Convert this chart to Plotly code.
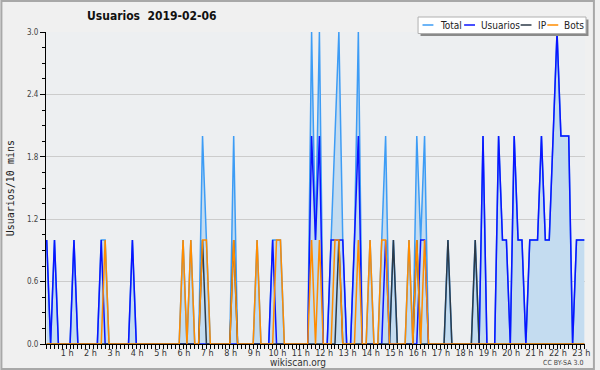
import plotly.graph_objects as go

# ---- data: users per 10-minute slot, 2019-02-06 (6 slots per hour) ----
TOTAL = [
    1, 0, 1, 0, 0, 0,   # 0 h
    0, 1, 0, 0, 0, 0,   # 1 h
    0, 0, 1, 1, 0, 0,   # 2 h
    0, 0, 0, 0, 1, 0,   # 3 h
    0, 0, 0, 0, 0, 0,   # 4 h
    0, 0, 0, 0, 0, 1,   # 5 h
    0, 1, 0, 0, 2, 1,   # 6 h
    0, 0, 0, 0, 0, 0,   # 7 h
    2, 0, 0, 0, 0, 0,   # 8 h
    1, 0, 0, 0, 1, 1,   # 9 h
    1, 0, 0, 0, 0, 0,   # 10 h
    0, 0, 3, 1, 3, 0,   # 11 h
    0, 1, 2, 3, 1, 0,   # 12 h
    0, 1, 3, 0, 0, 1,   # 13 h
    0, 0, 1, 2, 0, 1,   # 14 h
    0, 0, 0, 1, 0, 2,   # 15 h
    1, 2, 0, 0, 0, 0,   # 16 h
    0, 1, 0, 0, 0, 0,   # 17 h
    0, 0, 1, 0, 2, 0,   # 18 h
    0, 0, 2, 1, 1, 0,   # 19 h
    2, 1, 1, 0, 1, 1,   # 20 h
    1, 2, 1, 1, 2, 3,   # 21 h
    2, 2, 2, 0, 1, 1,   # 22 h
    1,                  # 23 h
]
USUARIOS = [
    1, 0, 1, 0, 0, 0,
    0, 1, 0, 0, 0, 0,
    0, 0, 1, 0, 0, 0,
    0, 0, 0, 0, 1, 0,
    0, 0, 0, 0, 0, 0,
    0, 0, 0, 0, 0, 0,
    0, 0, 0, 0, 0, 0,
    0, 0, 0, 0, 0, 0,
    0, 0, 0, 0, 0, 0,
    0, 0, 0, 0, 1, 0,
    0, 0, 0, 0, 0, 0,
    0, 0, 2, 1, 2, 0,
    0, 1, 1, 1, 1, 0,
    0, 1, 2, 0, 0, 0,
    0, 0, 0, 1, 0, 0,
    0, 0, 0, 0, 0, 0,
    1, 1, 0, 0, 0, 0,
    0, 0, 0, 0, 0, 0,
    0, 0, 0, 0, 2, 0,
    0, 0, 2, 1, 1, 0,
    2, 1, 1, 0, 1, 1,
    1, 2, 1, 1, 2, 3,
    2, 2, 2, 0, 1, 1,
    1,
]
IP = [
    0, 0, 0, 0, 0, 0,
    0, 0, 0, 0, 0, 0,
    0, 0, 0, 0, 0, 0,
    0, 0, 0, 0, 0, 0,
    0, 0, 0, 0, 0, 0,
    0, 0, 0, 0, 0, 0,
    0, 0, 0, 0, 1, 0,
    0, 0, 0, 0, 0, 0,
    1, 0, 0, 0, 0, 0,
    0, 0, 0, 0, 0, 0,
    0, 0, 0, 0, 0, 0,
    0, 0, 0, 0, 0, 0,
    0, 0, 0, 1, 0, 0,
    0, 0, 0, 0, 0, 0,
    0, 0, 0, 0, 0, 1,
    0, 0, 0, 0, 0, 1,
    0, 0, 0, 0, 0, 0,
    0, 1, 0, 0, 0, 0,
    0, 0, 1, 0, 0, 0,
    0, 0, 0, 0, 0, 0,
    0, 0, 0, 0, 0, 0,
    0, 0, 0, 0, 0, 0,
    0, 0, 0, 0, 0, 0,
    0,
]
BOTS = [
    0, 0, 0, 0, 0, 0,
    0, 0, 0, 0, 0, 0,
    0, 0, 0, 1, 0, 0,
    0, 0, 0, 0, 0, 0,
    0, 0, 0, 0, 0, 0,
    0, 0, 0, 0, 0, 1,
    0, 1, 0, 0, 1, 1,
    0, 0, 0, 0, 0, 0,
    1, 0, 0, 0, 0, 0,
    1, 0, 0, 0, 0, 1,
    1, 0, 0, 0, 0, 0,
    0, 0, 1, 0, 1, 0,
    0, 0, 1, 1, 0, 0,
    0, 0, 1, 0, 0, 1,
    0, 0, 1, 1, 0, 0,
    0, 0, 0, 1, 0, 1,
    0, 1, 0, 0, 0, 0,
    0, 0, 0, 0, 0, 0,
    0, 0, 0, 0, 0, 0,
    0, 0, 0, 0, 0, 0,
    0, 0, 0, 0, 0, 0,
    0, 0, 0, 0, 0, 0,
    0, 0, 0, 0, 0, 0,
    0,
]
HOURS = list(range(1, 24))
HOUR_LABELS = [f"{h} h" for h in HOURS]
Y_TICKS = [0.0, 0.6, 1.2, 1.8, 2.4, 3.0]
Y_LABELS = ["0.0", "0.6", "1.2", "1.8", "2.4", "3.0"]
SERIES_NAMES = ["Total", "Usuarios", "IP", "Bots"]

# x positions: time of day in hours (10-minute slots)
X = [i / 6 for i in range(len(TOTAL))]

# ---- layout constants ----
W, H = 600, 370
ML, MR, MT, MB = 46, 10, 32, 26
PW, PH = W - ML - MR, H - MT - MB

def px(x):
    return (x - ML) / PW

def py(y):
    return (H - MB - y) / PH

COLORS = {"Total": "#3d9cf5", "Usuarios": "#0a14ff", "IP": "#2c3a48", "Bots": "#ff8c00"}
FONT = "DejaVu Sans Condensed, Liberation Sans Narrow, DejaVu Sans"

fig = go.Figure()
fig.add_trace(go.Scatter(x=X, y=TOTAL, name="Total", mode="lines",
                         line=dict(color=COLORS["Total"], width=1.5),
                         fill="tozeroy", fillcolor="#c4dcf0"))
fig.add_trace(go.Scatter(x=X, y=USUARIOS, name="Usuarios", mode="lines",
                         line=dict(color=COLORS["Usuarios"], width=1.5)))
fig.add_trace(go.Scatter(x=X, y=IP, name="IP", mode="lines",
                         line=dict(color=COLORS["IP"], width=1.5)))
fig.add_trace(go.Scatter(x=X, y=BOTS, name="Bots", mode="lines",
                         line=dict(color=COLORS["Bots"], width=1.5)))

shapes = []
annotations = []

# outer frame
shapes.append(dict(type="rect", xref="paper", yref="paper",
                   x0=px(1), x1=px(599), y0=py(369), y1=py(1),
                   line=dict(color="#a8a8a8", width=2), fillcolor="rgba(0,0,0,0)",
                   layer="above"))

# manual legend box (shadow + box)
shapes.append(dict(type="rect", xref="paper", yref="paper",
                   x0=px(424), x1=px(593.5), y0=py(36), y1=py(19.5),
                   line=dict(width=0), fillcolor="#8a8a8a", layer="above"))
shapes.append(dict(type="rect", xref="paper", yref="paper",
                   x0=px(421.5), x1=px(591), y0=py(33.5), y1=py(17),
                   line=dict(color="#b0b0b0", width=1), fillcolor="#ffffff", layer="above"))
legend_items = [("Total", 426, 442), ("Usuarios", 468, 483), ("IP", 525, 541), ("Bots", 552, 567)]
for name, lx, tx in legend_items:
    shapes.append(dict(type="line", xref="paper", yref="paper",
                       x0=px(lx), x1=px(lx + 11), y0=py(25), y1=py(25),
                       line=dict(color=COLORS[name], width=1.5), layer="above"))
    annotations.append(dict(text=name, xref="paper", yref="paper",
                            x=px(tx), y=py(25), xanchor="left", yanchor="middle",
                            showarrow=False, font=dict(family=FONT, size=10, color="#222")))

# title
annotations.append(dict(text="Usuarios\u00a0\u00a02019-02-06", xref="paper", yref="paper",
                        x=px(85), y=py(16), xanchor="left", yanchor="middle", showarrow=False,
                        font=dict(family=FONT, size=12, color="#111", weight="bold")))
# y-axis title
annotations.append(dict(text="Usuarios/10 mins", xref="paper", yref="paper",
                        x=px(10), y=py(188), xanchor="center", yanchor="middle",
                        textangle=-90, showarrow=False,
                        font=dict(family="DejaVu Sans Mono", size=10, color="#222")))
# footer
annotations.append(dict(text="wikiscan.org", xref="paper", yref="paper",
                        x=px(300), y=py(362.5), xanchor="center", yanchor="middle",
                        showarrow=False, font=dict(family=FONT, size=10, color="#333")))
annotations.append(dict(text="CC BY-SA 3.0", xref="paper", yref="paper",
                        x=px(590), y=py(363), xanchor="right", yanchor="middle",
                        showarrow=False, font=dict(family=FONT, size=7, color="#444")))

fig.update_layout(
    width=W, height=H,
    margin=dict(l=ML, r=MR, t=MT, b=MB, pad=0),
    paper_bgcolor="#f0f0f0",
    plot_bgcolor="#edeff1",
    showlegend=False,
    shapes=shapes,
    annotations=annotations,
)
fig.update_xaxes(
    range=[-0.03, 23.03],
    tickvals=HOURS, ticktext=HOUR_LABELS,
    ticks="outside", ticklen=4, tickcolor="#000", tickwidth=1,
    minor=dict(dtick=1 / 6, ticks="outside", ticklen=4, tickcolor="#000", tickwidth=1, tick0=0),
    showgrid=False, zeroline=False,
    showline=True, linecolor="#000", linewidth=1,
    tickfont=dict(family=FONT, size=9, color="#333"),
    ticklabelshift=-3,
    ticklabelstandoff=-4,
)
fig.update_yaxes(
    range=[0, 3],
    tickvals=Y_TICKS, ticktext=Y_LABELS,
    ticks="outside", ticklen=5, tickcolor="#000", tickwidth=1,
    minor=dict(dtick=0.15, tick0=0, ticks="outside", ticklen=3, tickcolor="#000", tickwidth=1),
    showgrid=True, gridcolor="#cccccc", gridwidth=1,
    zeroline=False, showline=True, linecolor="#000", linewidth=1,
    tickfont=dict(family=FONT, size=8, color="#444"),
)

fig.write_html("out.html", config={"displayModeBar": False},
               post_script="document.body.style.margin='0';document.body.style.padding='0';")
